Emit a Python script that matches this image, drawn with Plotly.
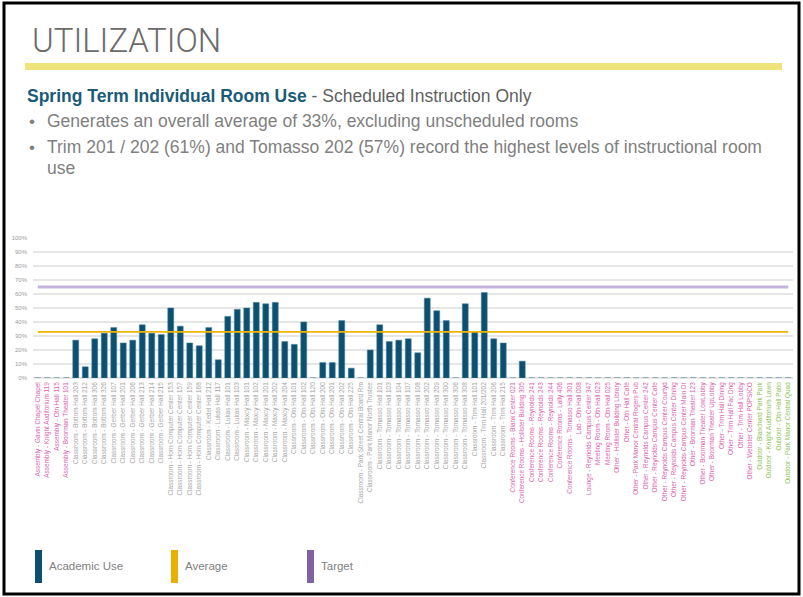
import plotly.graph_objects as go

# ---------------- data ----------------
categories = [
    "Assembly - Gavin Chapel Chapel", "Assembly - Knight Auditorium 119", "Assembly - Otn Hall 115",
    "Assembly - Boorman Theater 101",
    "Classroom - Bottom Hall 203", "Classroom - Bottom Hall 212", "Classroom - Bottom Hall 306",
    "Classroom - Bottom Hall 326", "Classroom - Gerber Hall 107", "Classroom - Gerber Hall 201",
    "Classroom - Gerber Hall 206", "Classroom - Gerber Hall 213", "Classroom - Gerber Hall 214",
    "Classroom - Gerber Hall 215", "Classroom - Horn Computer Center 153",
    "Classroom - Horn Computer Center 157", "Classroom - Horn Computer Center 159",
    "Classroom - Horn Computer Center 168", "Classroom - Kedel Hall 212", "Classroom - Lukas Hall 117",
    "Classroom - Lukas Hall 101", "Classroom - Lukas Hall 103", "Classroom - Maxcy Hall 101",
    "Classroom - Maxcy Hall 102", "Classroom - Maxcy Hall 201", "Classroom - Maxcy Hall 202",
    "Classroom - Maxcy Hall 204", "Classroom - Otn Hall 101", "Classroom - Otn Hall 102",
    "Classroom - Otn Hall 120", "Classroom - Otn Hall 200", "Classroom - Otn Hall 201",
    "Classroom - Otn Hall 202", "Classroom - Otn Hall 225", "Classroom - Park Street Central Board Rm",
    "Classroom - Park Manor North Trustee", "Classroom - Tomasso Hall 101", "Classroom - Tomasso Hall 103",
    "Classroom - Tomasso Hall 104", "Classroom - Tomasso Hall 107", "Classroom - Tomasso Hall 108",
    "Classroom - Tomasso Hall 202", "Classroom - Tomasso Hall 209", "Classroom - Tomasso Hall 300",
    "Classroom - Tomasso Hall 306", "Classroom - Tomasso Hall 308", "Classroom - Trim Hall 101",
    "Classroom - Trim Hall 201/202", "Classroom - Trim Hall 206", "Classroom - Trim Hall 215",
    "Conference Rooms - Blank Center 021", "Conference Rooms - Hollister Building 305",
    "Conference Rooms - Reynolds 241", "Conference Rooms - Reynolds 243", "Conference Rooms - Reynolds 244",
    "Conference Rooms - Lally 406", "Conference Rooms - Tomasso Hall 301", "Lab - Otn Hall 008",
    "Lounge - Reynolds Campus Center 347", "Meeting Room - Otn Hall 023", "Meeting Room - Otn Hall 025",
    "Other - Hollister Building Library", "Other - Otn Hall Café", "Other - Park Manor Central Rogers Pub",
    "Other - Reynolds Campus Center 242", "Other - Reynolds Campus Center Cafe",
    "Other - Reynolds Campus Center Courtyd", "Other - Reynolds Campus Center Dining",
    "Other - Reynolds Campus Center Main Dr", "Other - Boorman Theater 123",
    "Other - Boorman Theater LowLobby", "Other - Boorman Theater UpLobby", "Other - Trim Hall Dining",
    "Other - Trim Hall Fac Dng", "Other - Trim Hall Lobby", "Other - Webster Center POPSICO",
    "Outdoor - Blanchard Park Park", "Outdoor - Knight Auditorium Lawn", "Outdoor - Otn Hall Patio",
    "Outdoor - Park Manor Central Quad",
]

academic_use = [
    0, 0, 0, 0,
    27, 8, 28, 32, 36, 25, 27, 38, 32, 31,
    50, 37, 25, 23, 36, 13, 44, 49, 50, 54,
    53, 54, 26, 24, 40, 0, 11, 11, 41, 7,
    0, 20, 38, 26, 27, 28, 18, 57, 48, 41,
    0, 53, 33, 61, 28, 25,
    0, 12, 0, 0, 0, 0, 0, 0, 0, 0,
    0, 0, 0, 0, 0, 0, 0, 0, 0, 0,
    0, 0, 0, 0, 0, 0, 0, 0, 0, 0,
]

average_value = 33
target_value = 65

y_tick_values = [0, 10, 20, 30, 40, 50, 60, 70, 80, 90, 100]

# ---------------- styling ----------------
W, H = 803, 597
L, R, T, B = 33, 10, 238, 219
PW, PH = W - L - R, H - T - B

def px2x(px):
    return (px - L) / PW

def py2y(py):
    return (H - B - py) / PH

BAR_COLOR = "#0D4F6E"
AVG_COLOR = "#F0B400"
TARGET_COLOR = "#C4B3DD"
GRAY_LBL = "#A6A6A6"
PINK_LBL = "#DA62AA"
GREEN_LBL = "#8CC152"

def label_color(name):
    if name.startswith("Classroom"):
        return GRAY_LBL
    if name.startswith("Outdoor"):
        return GREEN_LBL
    return PINK_LBL

tick_text = [f"<span style='color:{label_color(c)}'>{c}</span>" for c in categories]

fig = go.Figure()
fig.add_trace(go.Bar(x=categories, y=academic_use, marker=dict(color=BAR_COLOR,
                     line=dict(color="#3F7E9C", width=0.6)), name="Academic Use"))
fig.add_trace(go.Scatter(x=categories, y=[average_value] * len(categories), mode="lines",
                         line=dict(color=AVG_COLOR, width=1.8), name="Average"))
fig.add_trace(go.Scatter(x=categories, y=[target_value] * len(categories), mode="lines",
                         line=dict(color=TARGET_COLOR, width=3), name="Target"))

fig.update_layout(
    width=W, height=H,
    margin=dict(l=L, r=R, t=T, b=B, pad=0),
    paper_bgcolor="white", plot_bgcolor="white",
    showlegend=False, bargap=0.38,
    font=dict(family="Liberation Sans, Arial, sans-serif"),
)
fig.update_xaxes(
    type="category", tickmode="array", tickvals=categories, ticktext=tick_text,
    tickangle=-90, tickfont=dict(size=6.4, color=GRAY_LBL), showgrid=False,
    showline=False, ticks="", range=[-0.5, len(categories) - 0.5], ticklabelstandoff=2,
)
fig.update_yaxes(
    range=[0, 100], tickmode="array", tickvals=y_tick_values,
    ticktext=[f"{v}%" for v in y_tick_values],
    tickfont=dict(size=6, color="#9A9A9A"), showgrid=True, gridcolor="#E6E6E6",
    gridwidth=1.5, zeroline=True, zerolinecolor="#E6E6E6", zerolinewidth=1.5,
    showline=False, ticks="", ticklabelstandoff=5,
)

shapes = []
# slide border
shapes.append(dict(type="rect", xref="paper", yref="paper", x0=px2x(4), x1=px2x(799),
                   y0=py2y(3), y1=py2y(594), line=dict(color="black", width=3)))
# yellow rule
shapes.append(dict(type="rect", xref="paper", yref="paper", x0=px2x(25), x1=px2x(782),
                   y0=py2y(63), y1=py2y(70), fillcolor="#EEE47A", line=dict(width=0)))
# legend swatches
legend_items = [("Academic Use", BAR_COLOR, 35), ("Average", "#E8B000", 171), ("Target", "#7E62A4", 307)]
for name, col, lx in legend_items:
    shapes.append(dict(type="rect", xref="paper", yref="paper", x0=px2x(lx), x1=px2x(lx + 7),
                       y0=py2y(550), y1=py2y(583), fillcolor=col, line=dict(width=0)))

annotations = []
annotations.append(dict(xref="paper", yref="paper", x=px2x(30), y=py2y(40), xanchor="left",
                        yanchor="middle", showarrow=False, text="UTILIZATION",
                        font=dict(family="Roboto, sans-serif", size=33, color="#6B6B6B", weight=300)))
annotations.append(dict(xref="paper", yref="paper", x=px2x(25), y=py2y(96), xanchor="left",
                        yanchor="middle", showarrow=False,
                        text="<b><span style='color:#1B5B78'>Spring Term Individual Room Use</span></b>"
                             "<span style='color:#5F5F5F'> - Scheduled Instruction Only</span>",
                        font=dict(size=17.5, family="Liberation Sans, Arial, sans-serif")))
bullets = [
    (121, "Generates an overall average of 33%, excluding unscheduled rooms"),
    (147, "Trim 201 / 202 (61%) and Tomasso 202 (57%) record the highest levels of instructional room"),
]
for by, txt in bullets:
    annotations.append(dict(xref="paper", yref="paper", x=px2x(27), y=py2y(by), xanchor="left",
                            yanchor="middle", showarrow=False, text="•",
                            font=dict(size=17, color="#7F7F7F")))
    annotations.append(dict(xref="paper", yref="paper", x=px2x(45), y=py2y(by), xanchor="left",
                            yanchor="middle", showarrow=False, text=txt,
                            font=dict(size=17.5, color="#7F7F7F")))
annotations.append(dict(xref="paper", yref="paper", x=px2x(45), y=py2y(168), xanchor="left",
                        yanchor="middle", showarrow=False, text="use",
                        font=dict(size=17.5, color="#7F7F7F")))
for name, col, lx in legend_items:
    annotations.append(dict(xref="paper", yref="paper", x=px2x(lx + 12), y=py2y(566), xanchor="left",
                            yanchor="middle", showarrow=False, text=name,
                            font=dict(size=11.5, color="#7F7F7F")))

fig.update_layout(shapes=shapes, annotations=annotations)
fig.write_html("out.html", config={"displayModeBar": False},
               post_script="document.body.style.margin='0px';")
